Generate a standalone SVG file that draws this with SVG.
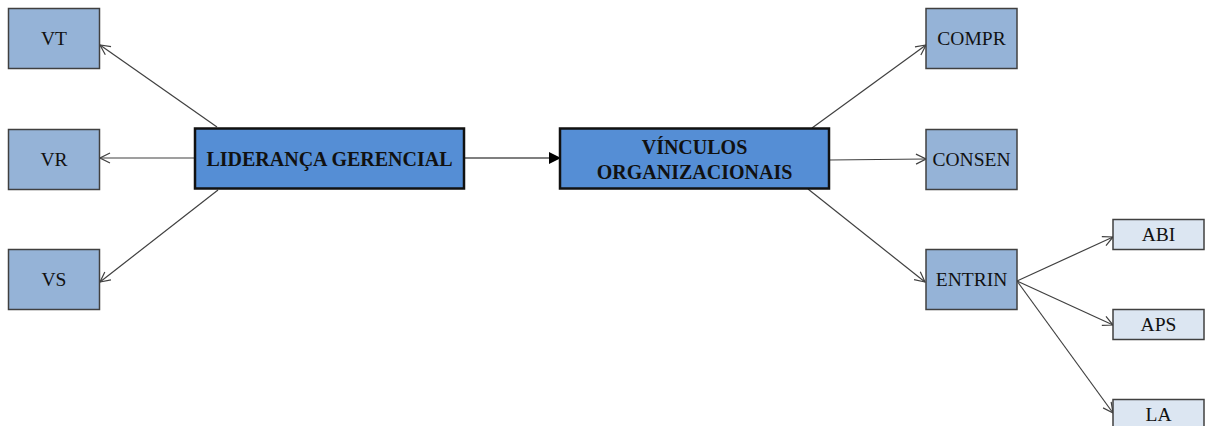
<svg xmlns="http://www.w3.org/2000/svg" width="1205" height="426" viewBox="0 0 1205 426">
<defs>
<marker id="open" viewBox="0 0 12 12" refX="11" refY="6" markerWidth="12" markerHeight="12" markerUnits="userSpaceOnUse" orient="auto">
<path d="M1,1 L11,6 L1,11" fill="none" stroke="#404040" stroke-width="1.2"/>
</marker>
<marker id="solid" viewBox="0 0 12 12" refX="11" refY="6" markerWidth="12" markerHeight="12" markerUnits="userSpaceOnUse" orient="auto">
<path d="M0,0 L12,6 L0,12 Z" fill="#000"/>
</marker>
</defs>
<style>
.mid{fill:#95B3D7;stroke:#404040;stroke-width:1.5}
.main{fill:#558ED5;stroke:#111;stroke-width:2.5}
.lite{fill:#DCE6F2;stroke:#404040;stroke-width:1.5}
text{font-family:'Liberation Serif','Times New Roman',serif;fill:#111;text-anchor:middle}
.t{font-size:19.5px}
.b{font-size:20px;font-weight:bold}
.c{stroke:#404040;stroke-width:1.2;fill:none;marker-end:url(#open)}
</style>
<g id="connectors">
<line class="c" x1="217" y1="127" x2="100" y2="45"/>
<line class="c" x1="195" y1="158" x2="100" y2="158"/>
<line class="c" x1="218" y1="190" x2="100" y2="282"/>
<line x1="464" y1="158" x2="560" y2="158" stroke="#000" stroke-width="1.2" marker-end="url(#solid)"/>
<line class="c" x1="812" y1="128" x2="926" y2="45"/>
<line class="c" x1="829" y1="160" x2="926" y2="159"/>
<line class="c" x1="808" y1="189" x2="925" y2="282"/>
<line class="c" x1="1017" y1="281" x2="1113" y2="237"/>
<line class="c" x1="1017" y1="281" x2="1113" y2="325"/>
<line class="c" x1="1017" y1="281" x2="1113" y2="413"/>
</g>
<g id="VT"><rect class="mid" x="8.5" y="8.5" width="91" height="60"/><text class="t" x="54" y="45">VT</text></g>
<g id="VR"><rect class="mid" x="8.5" y="129.5" width="91" height="60"/><text class="t" x="54" y="166">VR</text></g>
<g id="VS"><rect class="mid" x="8.5" y="249.5" width="91" height="60"/><text class="t" x="54" y="286">VS</text></g>
<g id="lideranca"><rect class="main" x="195" y="128.5" width="269" height="60"/><text class="b" x="329.5" y="165.5">LIDERANÇA GERENCIAL</text></g>
<g id="vinculos"><rect class="main" x="560" y="128.5" width="269" height="60"/><text class="b" x="694.5" y="153.5">VÍNCULOS</text><text class="b" x="694.5" y="178.5">ORGANIZACIONAIS</text></g>
<g id="COMPR"><rect class="mid" x="926" y="8.5" width="91" height="60"/><text class="t" x="971.5" y="45">COMPR</text></g>
<g id="CONSEN"><rect class="mid" x="926" y="129.5" width="91" height="60"/><text class="t" x="971.5" y="166">CONSEN</text></g>
<g id="ENTRIN"><rect class="mid" x="926" y="249.5" width="91" height="60"/><text class="t" x="971.5" y="286">ENTRIN</text></g>
<g id="ABI"><rect class="lite" x="1113" y="219.5" width="91" height="30"/><text class="t" x="1158.5" y="241">ABI</text></g>
<g id="APS"><rect class="lite" x="1113" y="309.5" width="91" height="30"/><text class="t" x="1158.5" y="331">APS</text></g>
<g id="LA"><rect class="lite" x="1113" y="399.5" width="91" height="30"/><text class="t" x="1158.5" y="421">LA</text></g>
</svg>
